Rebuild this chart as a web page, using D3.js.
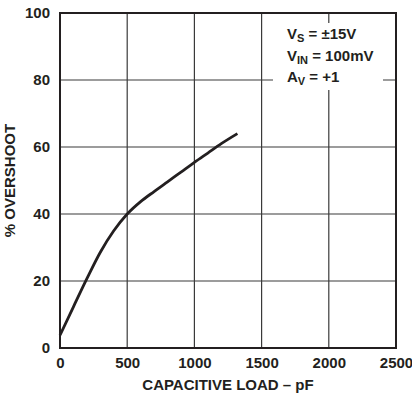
<!DOCTYPE html>
<html>
<head>
<meta charset="utf-8">
<script src="https://cdn.jsdelivr.net/npm/d3@7"></script>
<style>
  body { margin: 0; background: #fff; }
  text { font-family: "Liberation Sans", Arial, sans-serif; font-weight: bold; fill: #231f20; }
</style>
</head>
<body>
<div id="chart"></div>
<script>
// capacitive load (pF) vs % overshoot
var loadPF = [0, 100, 200, 300, 400, 500, 600, 700, 800, 900, 1000, 1100, 1200, 1320];
var overshoot = [3.8, 12.3, 20.7, 28.6, 35, 40, 43.7, 46.7, 49.6, 52.5, 55.4, 58.2, 61, 64];
var xTicks = [0, 500, 1000, 1500, 2000, 2500];
var yTicks = [0, 20, 40, 60, 80, 100];

var margin = { top: 13, right: 16, bottom: 52, left: 60 },
    width = 412 - margin.left - margin.right,
    height = 400 - margin.top - margin.bottom;

var svg = d3.select("#chart")
    .append("svg")
    .attr("width", 412)
    .attr("height", 400)
    .append("g")
    .attr("transform", "translate(" + margin.left + "," + margin.top + ")");

var x = d3.scaleLinear().domain([0, 2500]).range([0, width]);
var y = d3.scaleLinear().domain([0, 100]).range([height, 0]);

// gridlines
svg.append("g")
    .selectAll("line")
    .data(xTicks.slice(1, -1))
    .enter()
    .append("line")
    .attr("x1", d => x(d)).attr("x2", d => x(d))
    .attr("y1", 0).attr("y2", height)
    .attr("stroke", "#3a3a3a")
    .attr("stroke-width", 1.2);

svg.append("g")
    .selectAll("line")
    .data(yTicks.slice(1, -1))
    .enter()
    .append("line")
    .attr("x1", 0).attr("x2", width)
    .attr("y1", d => y(d)).attr("y2", d => y(d))
    .attr("stroke", "#3a3a3a")
    .attr("stroke-width", 1.2);

// frame
svg.append("rect")
    .attr("width", width)
    .attr("height", height)
    .attr("fill", "none")
    .attr("stroke", "#231f20")
    .attr("stroke-width", 2);

// tick labels only, no tick marks
var xAxis = svg.append("g")
    .attr("transform", "translate(0," + height + ")")
    .call(d3.axisBottom(x).tickValues(xTicks).tickSize(0).tickPadding(9).tickFormat(d3.format("d")));
xAxis.select(".domain").remove();
xAxis.selectAll("text").style("font-size", "15px");

var yAxis = svg.append("g")
    .call(d3.axisLeft(y).tickValues(yTicks).tickSize(0).tickPadding(10).tickFormat(d3.format("d")));
yAxis.select(".domain").remove();
yAxis.selectAll("text").style("font-size", "15px");

// conditions box knocks out the grid
svg.append("rect")
    .attr("x", 213)
    .attr("y", 10)
    .attr("width", 110)
    .attr("height", 67)
    .attr("fill", "#fff");

var conds = [["V", "S", " = \u00b115V"], ["V", "IN", " = 100mV"], ["A", "V", " = +1"]];
conds.forEach(function (c, i) {
    var t = svg.append("text")
        .attr("x", 227)
        .attr("y", 26 + i * 21.5)
        .style("font-size", "15px");
    t.append("tspan").text(c[0]);
    t.append("tspan").attr("dy", 3).style("font-size", "11px").text(c[1]);
    t.append("tspan").attr("dy", -3).text(c[2]);
});

// curve
var line = d3.line()
    .x((d, i) => x(loadPF[i]))
    .y(d => y(d))
    .curve(d3.curveMonotoneX);

svg.append("path")
    .datum(overshoot)
    .attr("d", line)
    .attr("fill", "none")
    .attr("stroke", "#231f20")
    .attr("stroke-width", 2.8);

// axis titles
svg.append("text")
    .attr("x", width / 2)
    .attr("y", height + 42)
    .style("text-anchor", "middle")
    .style("font-size", "15px")
    .text("CAPACITIVE LOAD \u2013 pF");

svg.append("text")
    .attr("transform", "rotate(-90)")
    .attr("x", -height / 2)
    .attr("y", 15 - margin.left)
    .style("text-anchor", "middle")
    .style("font-size", "15px")
    .text("% OVERSHOOT");
</script>
</body>
</html>
